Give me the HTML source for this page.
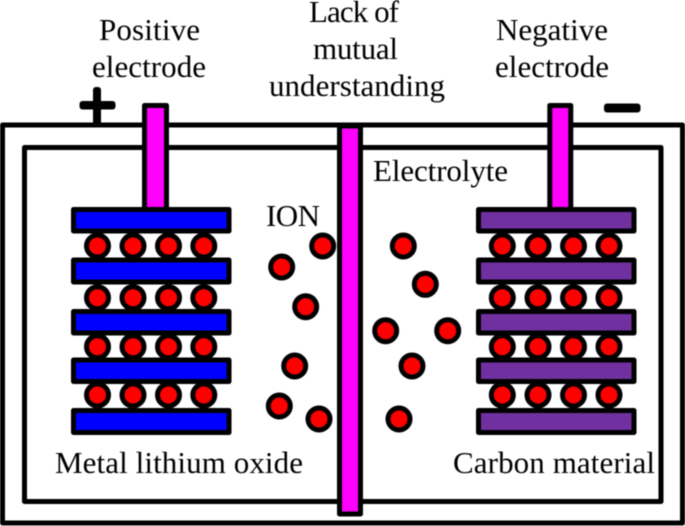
<!DOCTYPE html>
<html>
<head>
<meta charset="utf-8">
<style>
html,body{margin:0;padding:0;background:#fff;width:685px;height:526px;overflow:hidden}
svg{display:block;filter:blur(0.4px)}
text{font-family:"Liberation Serif",serif;font-size:31px;fill:#000}
.s{stroke:#000;stroke-width:5;stroke-linejoin:round}
.ion{fill:#f00;stroke:#000;stroke-width:5}
.a{fill:#00f}
.b{fill:#7030a0}
.m{fill:#f0f}
</style>
</head>
<body>
<svg width="685" height="526" viewBox="0 0 685 526" xmlns="http://www.w3.org/2000/svg">
<rect width="685" height="526" fill="#fff"/>
<rect class="s" x="2.5" y="125" width="680" height="398" fill="none"/>
<rect class="s" x="24.5" y="147.5" width="636.5" height="354" fill="none"/>

<!-- plus / minus -->
<rect x="93" y="87" width="8" height="38" rx="3"/>
<rect x="79.5" y="101" width="36" height="8.5" rx="3"/>
<rect x="604" y="103.500" width="36.500" height="9" rx="3"/>

<!-- tabs -->
<rect class="s m" x="144.500" y="105.500" width="22" height="104"/>
<rect class="s m" x="549.800" y="105.500" width="21" height="104"/>

<!-- left plates -->
<g class="s a">
<rect x="73.500" y="209.500" width="155.500" height="21.500"/>
<rect x="73.500" y="260" width="155.500" height="22"/>
<rect x="73.500" y="311.500" width="155.500" height="21.500"/>
<rect x="73.500" y="360" width="155.500" height="21.500"/>
<rect x="73.500" y="410.500" width="155.500" height="22"/>
</g>
<!-- right plates -->
<g class="s b">
<rect x="478.500" y="209.500" width="155.500" height="21.500"/>
<rect x="478.500" y="260" width="155.500" height="22"/>
<rect x="478.500" y="311.500" width="155.500" height="21.500"/>
<rect x="478.500" y="360" width="155.500" height="21.500"/>
<rect x="478.500" y="410.500" width="155.500" height="22"/>
</g>

<!-- stacked ions left -->
<g class="ion">
<circle cx="97.500" cy="246" r="11"/><circle cx="133" cy="246" r="11"/><circle cx="168.500" cy="246" r="11"/><circle cx="203.800" cy="246" r="11"/>
<circle cx="97.500" cy="297.700" r="11"/><circle cx="133" cy="297.700" r="11"/><circle cx="168.500" cy="297.700" r="11"/><circle cx="203.800" cy="297.700" r="11"/>
<circle cx="97.500" cy="346.700" r="11"/><circle cx="133" cy="346.700" r="11"/><circle cx="168.500" cy="346.700" r="11"/><circle cx="203.800" cy="346.700" r="11"/>
<circle cx="97.500" cy="395" r="11"/><circle cx="133" cy="395" r="11"/><circle cx="168.500" cy="395" r="11"/><circle cx="203.800" cy="395" r="11"/>
<!-- stacked ions right -->
<circle cx="502.300" cy="246" r="11"/><circle cx="538" cy="246" r="11"/><circle cx="573.500" cy="246" r="11"/><circle cx="609" cy="246" r="11"/>
<circle cx="502.300" cy="297.700" r="11"/><circle cx="538" cy="297.700" r="11"/><circle cx="573.500" cy="297.700" r="11"/><circle cx="609" cy="297.700" r="11"/>
<circle cx="502.300" cy="346.700" r="11"/><circle cx="538" cy="346.700" r="11"/><circle cx="573.500" cy="346.700" r="11"/><circle cx="609" cy="346.700" r="11"/>
<circle cx="502.300" cy="395" r="11"/><circle cx="538" cy="395" r="11"/><circle cx="573.500" cy="395" r="11"/><circle cx="609" cy="395" r="11"/>
<!-- free ions -->
<circle cx="322.700" cy="246" r="11"/>
<circle cx="281.700" cy="267" r="11"/>
<circle cx="305.700" cy="306.700" r="11"/>
<circle cx="294.700" cy="366" r="11"/>
<circle cx="279.300" cy="406" r="11"/>
<circle cx="319" cy="419" r="11"/>
<circle cx="403.300" cy="246" r="11"/>
<circle cx="425.300" cy="284.300" r="11"/>
<circle cx="385.700" cy="330.700" r="11"/>
<circle cx="447.700" cy="330.700" r="11"/>
<circle cx="412" cy="366" r="11"/>
<circle cx="399" cy="419" r="11"/>
</g>

<!-- separator -->
<rect class="s m" x="339.500" y="126" width="21" height="388"/>

<!-- labels -->
<text x="99" y="40" textLength="101" lengthAdjust="spacing">Positive</text>
<text x="92" y="77" textLength="114" lengthAdjust="spacing">electrode</text>
<text x="309" y="22" textLength="90" lengthAdjust="spacing">Lack of</text>
<text x="313" y="59" textLength="85" lengthAdjust="spacing">mutual</text>
<text x="269" y="96" textLength="176" lengthAdjust="spacing">understanding</text>
<text x="496" y="40" textLength="112" lengthAdjust="spacing">Negative</text>
<text x="495" y="77" textLength="114" lengthAdjust="spacing">electrode</text>
<text x="373" y="181" textLength="135" lengthAdjust="spacing">Electrolyte</text>
<text x="266" y="226" textLength="54" lengthAdjust="spacing">ION</text>
<text x="55" y="473" textLength="248" lengthAdjust="spacing">Metal lithium oxide</text>
<text x="453" y="473" textLength="202" lengthAdjust="spacing">Carbon material</text>
</svg>
</body>
</html>
